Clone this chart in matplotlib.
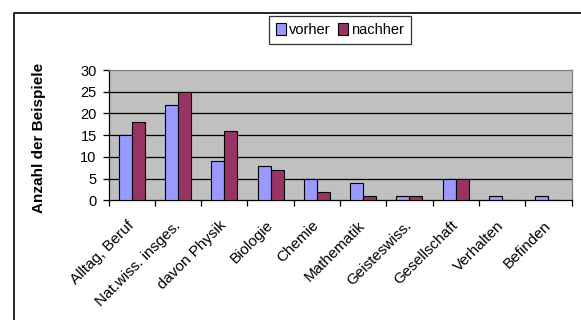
import matplotlib
matplotlib.use("Agg")
import matplotlib.pyplot as plt
import numpy as np
from matplotlib.lines import Line2D
from matplotlib.patches import Patch

plt.rcParams['font.family'] = ['Liberation Sans', 'DejaVu Sans']

categories = ["Alltag, Beruf", "Nat.wiss. insges.", "davon Physik", "Biologie",
              "Chemie", "Mathematik", "Geisteswiss.", "Gesellschaft",
              "Verhalten", "Befinden"]
vorher = [15, 22, 9, 8, 5, 4, 1, 5, 1, 1]
nachher = [18, 25, 16, 7, 2, 1, 1, 5, 0, 0]
y_ticks = [0, 5, 10, 15, 20, 25, 30]

W, H = 581, 320
fig = plt.figure(figsize=(W / 100, H / 100), dpi=100)
fig.patch.set_facecolor("white")

# chart frame (runs off the right and bottom edges)
fig.add_artist(Line2D([13.5 / W, 13.5 / W, 1.0], [0.0, 1 - 12.7 / H, 1 - 12.7 / H],
                      transform=fig.transFigure, color="black", lw=1.2))

left, right, top, bottom = 108.5, 571.5, 70.0, 200.3
ax = fig.add_axes([left / W, 1 - bottom / H, (right - left) / W, (bottom - top) / H])
ax.set_facecolor("#C0C0C0")

x = np.arange(len(categories))
bw = 0.28
ax.bar(x - bw / 2, vorher, bw, color="#9999FF", edgecolor="black", lw=0.8, zorder=3)
ax.bar(x + bw / 2, nachher, bw, color="#993366", edgecolor="black", lw=0.8, zorder=3)

ax.set_xlim(-0.5, len(categories) - 0.5)
ax.set_ylim(0, 30)
ax.set_yticks(y_ticks)
ax.set_yticklabels([str(v) for v in y_ticks], fontsize=10.5)
for v in y_ticks[1:-1]:
    ax.axhline(v, color="black", lw=0.9, zorder=1)

# category boundary ticks on the x axis
ax.set_xticks(np.arange(len(categories) + 1) - 0.5)
ax.set_xticklabels([])
ax.tick_params(axis="x", direction="out", length=4, width=0.9, color="black")
ax.tick_params(axis="y", direction="out", length=4, width=0.9, color="black", pad=4.5)

for xi, lab in zip(x, categories):
    ax.annotate(lab, xy=(xi, 0), xycoords=("data", "axes fraction"),
                xytext=(-3.6, -13.0), textcoords="offset points",
                rotation=45, ha="right", va="top", rotation_mode="anchor",
                fontsize=11)

ax.spines["left"].set_color("black")
ax.spines["bottom"].set_color("black")
ax.spines["top"].set_color("#808080")
ax.spines["right"].set_color("#808080")
for s in ax.spines.values():
    s.set_linewidth(0.9)

fig.text(39.5 / W, 1 - 138 / H, "Anzahl der Beispiele", rotation=90,
         ha="center", va="center", fontsize=11, fontweight="bold")

handles = [Patch(facecolor="#9999FF", edgecolor="black", lw=0.8),
           Patch(facecolor="#993366", edgecolor="black", lw=0.8)]
leg = fig.legend(handles, ["vorher", "nachher"], loc="center",
                 bbox_to_anchor=(340 / W, 1 - 30 / H), ncol=2, fontsize=10.5,
                 frameon=True, fancybox=False, handlelength=0.7, handleheight=0.8,
                 handletextpad=0.2, columnspacing=0.5, borderpad=0.45,
                 borderaxespad=0)
leg.get_frame().set_edgecolor("black")
leg.get_frame().set_linewidth(0.9)

fig.savefig("out.png", dpi=100)
